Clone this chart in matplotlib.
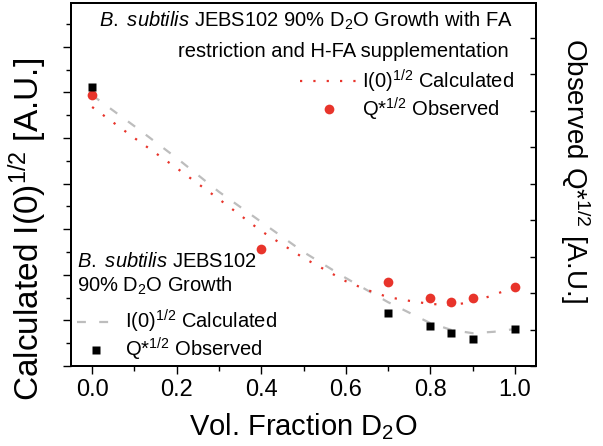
import matplotlib
matplotlib.use("Agg")
import matplotlib.pyplot as plt
from matplotlib.ticker import MultipleLocator, FormatStrFormatter

plt.rcParams['font.family'] = ['Liberation Sans', 'DejaVu Sans']
plt.rcParams['mathtext.fontset'] = 'custom'
plt.rcParams['mathtext.rm'] = 'Liberation Sans'
plt.rcParams['mathtext.it'] = 'Liberation Sans:italic'
plt.rcParams['mathtext.bf'] = 'Liberation Sans:bold'

# calculated I(0)^1/2 curves (left axis, arbitrary units)
calc_x = [0.0, 0.1, 0.2, 0.3, 0.4, 0.5, 0.6, 0.7, 0.8, 0.85, 0.9, 0.95, 1.0]
calc_ctrl = [5.94, 5.26, 4.56, 3.82, 3.16, 2.50, 1.93, 1.40, 0.94, 0.79, 0.72, 0.75, 0.81]
calc_fa_x = [0.0, 0.1, 0.2, 0.3, 0.4, 0.5, 0.6, 0.65, 0.7, 0.75, 0.8, 0.85, 0.9, 0.95, 1.0]
calc_fa = [5.68, 5.00, 4.34, 3.66, 2.96, 2.37, 1.86, 1.67, 1.51, 1.43, 1.36, 1.34, 1.40, 1.56, 1.73]

# observed Q*^1/2 (right axis, arbitrary units)
obs_fa_x = [0.0, 0.4, 0.7, 0.8, 0.85, 0.9, 1.0]
obs_fa = [7.42, 3.21, 2.30, 1.86, 1.75, 1.86, 2.16]
obs_ctrl_x = [0.0, 0.7, 0.8, 0.85, 0.9, 1.0]
obs_ctrl = [7.64, 1.45, 1.10, 0.90, 0.74, 1.01]

red = '#e8342b'
gray = '#bdbdbd'

fig = plt.figure(figsize=(6.03, 4.46), dpi=100)
ax = fig.add_axes([71/603, 80/446, 465/603, 363/446])
ax2 = ax.twinx()

l_ctrl, = ax.plot(calc_x, calc_ctrl, color=gray, lw=1.6, linestyle=(0, (4, 6)))
l_fa, = ax.plot(calc_fa_x, calc_fa, color=red, lw=1.6, linestyle=(0, (1, 5)))
p_fa, = ax2.plot(obs_fa_x, obs_fa, 'o', color=red, ms=7, mec='none')
p_ctrl, = ax2.plot(obs_ctrl_x, obs_ctrl, 's', color='black', ms=5.5, mec='none')

ax.set_xlim(-0.05, 1.05)
ax.set_ylim(0, 363/45.6)
ax2.set_ylim(0, 363/36.5)

ax.xaxis.set_major_locator(MultipleLocator(0.2))
ax.xaxis.set_minor_locator(MultipleLocator(0.1))
ax.xaxis.set_major_formatter(FormatStrFormatter('%.1f'))
ax.yaxis.set_major_locator(MultipleLocator(1))
ax.yaxis.set_minor_locator(MultipleLocator(0.5))
ax2.yaxis.set_major_locator(MultipleLocator(1))

ax.tick_params(axis='x', which='major', direction='out', length=5.5, width=1, labelsize=17, pad=4)
ax.tick_params(axis='x', which='minor', direction='out', length=3.5, width=1)
ax.tick_params(axis='y', which='major', direction='out', length=5.5, width=1, labelleft=False)
ax.tick_params(axis='y', which='minor', direction='out', length=3.5, width=1)
ax2.tick_params(axis='y', direction='in', length=4.5, width=1, labelright=False)
ax2.xaxis.set_visible(False)
for a in (ax, ax2):
    for s in a.spines.values():
        s.set_linewidth(1.4)

ax.set_xlabel('Vol. Fraction D$_2$O', fontsize=21, labelpad=7)
ax.set_ylabel('Calculated I(0)$^{1/2}$ [A.U.]', fontsize=24)
ax.yaxis.set_label_coords(-0.048, 0.375)
ax2.set_ylabel('Observed Q*$^{1/2}$ [A.U.]', fontsize=20, rotation=270, va='bottom')
ax2.yaxis.set_label_coords(1.047, 0.537)

fs = 14.5
ax.text(0.9505, 0.934, r'$\mathit{B.\ subtilis}$ JEBS102 90% D$_2$O Growth with FA',
        transform=ax.transAxes, ha='right', va='baseline', fontsize=fs)
ax.text(0.942, 0.851, 'restriction and H-FA supplementation',
        transform=ax.transAxes, ha='right', va='baseline', fontsize=fs)
ax.text(0.013, 0.273, r'$\mathit{B.\ subtilis}$ JEBS102',
        transform=ax.transAxes, ha='left', va='baseline', fontsize=fs)
ax.text(0.013, 0.204, '90% D$_2$O Growth',
        transform=ax.transAxes, ha='left', va='baseline', fontsize=fs)

leg1 = ax2.legend([l_fa, p_fa], ['I(0)$^{1/2}$ Calculated', 'Q*$^{1/2}$ Observed'],
                  loc='upper left', bbox_to_anchor=(0.4925, 0.822), frameon=False,
                  fontsize=fs, borderpad=0, borderaxespad=0, handlelength=2.85,
                  handletextpad=0.25, labelspacing=0.05)
ax2.add_artist(leg1)
leg2 = ax2.legend([l_ctrl, p_ctrl], ['I(0)$^{1/2}$ Calculated', 'Q*$^{1/2}$ Observed'],
                  loc='upper left', bbox_to_anchor=(0.013, 0.16), frameon=False,
                  fontsize=fs, borderpad=0, borderaxespad=0, handlelength=1.9,
                  handletextpad=0.5, labelspacing=0.05)

fig.savefig('out.png', dpi=100)
